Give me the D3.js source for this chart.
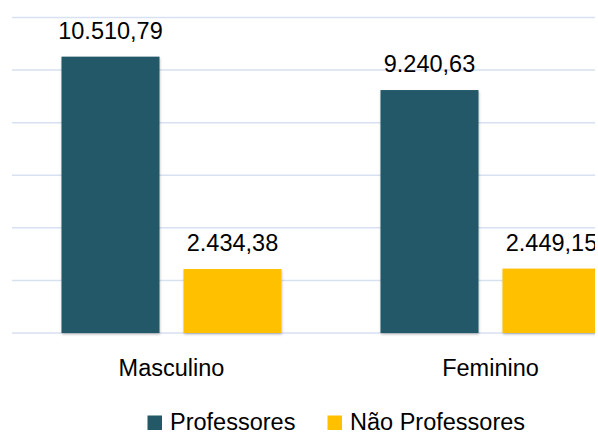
<!DOCTYPE html>
<html>
<head>
<meta charset="utf-8">
<script src="https://cdn.jsdelivr.net/npm/d3@7"></script>
<style>
  body { margin: 0; background: #fff; }
  svg { display: block; font-family: "Liberation Sans", Arial, sans-serif; }
</style>
</head>
<body>
<div id="chart"></div>
<script>
// data
const categories = ["Masculino", "Feminino"];
const series = ["Professores", "Não Professores"];
const professores = [10510.79, 9240.63];
const naoProfessores = [2434.38, 2449.15];
const yTicks = [0, 2000, 4000, 6000, 8000, 10000, 12000];

const colors = ["#235867", "#ffc000"];

const width = 598, height = 435;
const plot = { left: 12, right: 650, top: 17.5, bottom: 333 };

const rows = categories.map((c, i) => ({
  cat: c,
  values: [professores[i], naoProfessores[i]]
}));

const fmt = v => {
  const s = d3.format(",.2f")(v);
  return s.replace(/,/g, "#").replace(".", ",").replace(/#/g, ".");
};

const svg = d3.select("#chart").append("svg")
  .attr("width", width)
  .attr("height", height);

svg.append("clipPath").attr("id", "clip")
  .append("rect").attr("x", 0).attr("y", 0).attr("width", 595).attr("height", height);

const x0 = d3.scaleBand().domain(categories).range([plot.left, plot.right]);
const x1 = d3.scaleBand().domain(series)
  .range([49.5, 269.5])
  .paddingInner(24 / 122);
const y = d3.scaleLinear().domain([0, 12000]).range([plot.bottom, plot.top]);

const g = svg.append("g").attr("clip-path", "url(#clip)");

// gridlines
g.append("g")
  .selectAll("line")
  .data(yTicks)
  .join("line")
  .attr("x1", plot.left)
  .attr("x2", plot.right)
  .attr("y1", d => y(d))
  .attr("y2", d => y(d))
  .attr("stroke", "#d7e1f1")
  .attr("stroke-width", 1.5);

// bar shadow filter
const defs = svg.append("defs");
const f = defs.append("filter").attr("id", "sh").attr("x", "-10%").attr("y", "-10%").attr("width", "130%").attr("height", "130%");
f.append("feDropShadow").attr("dx", 0.5).attr("dy", 1.5).attr("stdDeviation", 1.2)
  .attr("flood-color", "#000").attr("flood-opacity", 0.25);

const groups = g.append("g")
  .selectAll("g")
  .data(rows)
  .join("g")
  .attr("transform", d => `translate(${x0(d.cat)},0)`);

groups.selectAll("rect")
  .data(d => d.values.map((v, i) => ({ s: series[i], v, i })))
  .join("rect")
  .attr("x", d => x1(d.s))
  .attr("y", d => y(d.v))
  .attr("width", x1.bandwidth())
  .attr("height", d => y(0) - y(d.v))
  .attr("fill", d => colors[d.i])
  .attr("filter", "url(#sh)");

groups.selectAll("text.val")
  .data(d => d.values.map((v, i) => ({ s: series[i], v, i })))
  .join("text")
  .attr("class", "val")
  .attr("x", d => x1(d.s) + x1.bandwidth() / 2)
  .attr("y", d => y(d.v) - 18)
  .attr("text-anchor", "middle")
  .attr("font-size", "23.5px")
  .attr("fill", "#000")
  .text(d => fmt(d.v));

// category labels
svg.append("g")
  .selectAll("text")
  .data(categories)
  .join("text")
  .attr("x", d => x0(d) + x0.bandwidth() / 2)
  .attr("y", 376)
  .attr("text-anchor", "middle")
  .attr("font-size", "23.5px")
  .attr("fill", "#000")
  .text(d => d);

// legend
const legendX = [147.5, 327.5];
const legend = svg.append("g")
  .selectAll("g")
  .data(series)
  .join("g")
  .attr("transform", (d, i) => `translate(${legendX[i]},415.5)`);

legend.append("rect")
  .attr("width", 14.5)
  .attr("height", 14.5)
  .attr("fill", (d, i) => colors[i]);

legend.append("text")
  .attr("x", 22.5)
  .attr("y", 14.5)
  .attr("font-size", "23.5px")
  .attr("fill", "#000")
  .text(d => d);
</script>
</body>
</html>
